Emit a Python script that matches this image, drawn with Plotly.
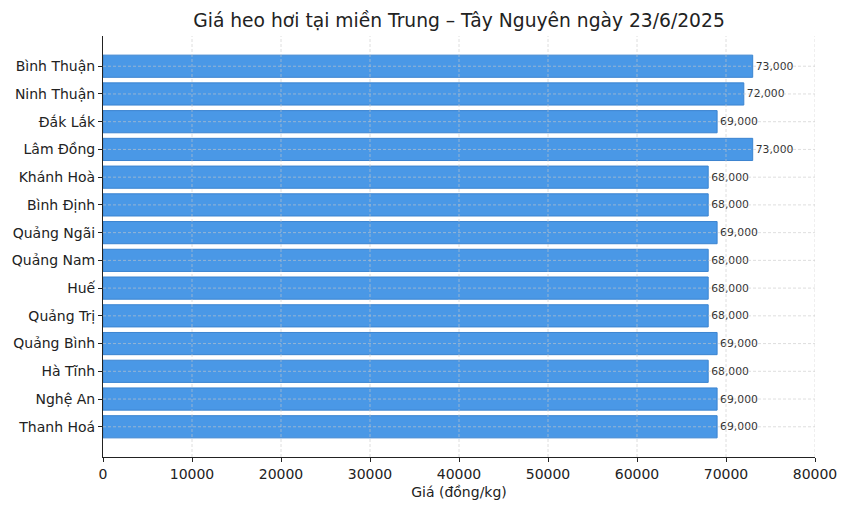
import plotly.graph_objects as go

provinces = ["Bình Thuận", "Ninh Thuận", "Đắk Lắk", "Lâm Đồng", "Khánh Hoà", "Bình Định",
             "Quảng Ngãi", "Quảng Nam", "Huế", "Quảng Trị", "Quảng Bình", "Hà Tĩnh",
             "Nghệ An", "Thanh Hoá"]
prices = [73000, 72000, 69000, 73000, 68000, 68000, 69000, 68000, 68000, 68000, 69000, 68000,
          69000, 69000]
x_ticks = [0, 10000, 20000, 30000, 40000, 50000, 60000, 70000, 80000]
labels = [f"{v:,}" for v in prices]

fig = go.Figure(go.Bar(
    x=prices, y=provinces, orientation="h",
    marker=dict(color="#4a98e6", line=dict(color="#3b84d0", width=1)),
    width=0.8,
    text=labels, textposition="outside", cliponaxis=False,
    textfont=dict(family="DejaVu Sans", size=10.8, color="#333333"),
    hoverinfo="skip",
))

grid_line = dict(color="rgba(200,200,200,0.6)", width=1, dash="3px,2px")
shapes = []
for t in x_ticks[1:]:
    shapes.append(dict(type="line", xref="x", yref="paper", x0=t, x1=t, y0=0, y1=1,
                       line=grid_line, layer="above"))
for p in provinces:
    shapes.append(dict(type="line", xref="paper", yref="y", x0=0, x1=1, y0=p, y1=p,
                       line=grid_line, layer="above"))

fig.update_layout(
    width=850, height=510,
    margin=dict(l=101, r=35, t=36, b=51),
    plot_bgcolor="white", paper_bgcolor="white",
    font=dict(family="DejaVu Sans", size=14, color="#222222"),
    title=dict(text="Giá heo hơi tại miền Trung – Tây Nguyên ngày 23/6/2025",
               xref="paper", x=0.5, xanchor="center",
               yref="container", y=1 - 20 / 510, yanchor="middle",
               font=dict(size=18.7, color="#222222")),
    showlegend=False,
    bargap=0.2,
    shapes=shapes,
)
fig.update_xaxes(
    range=[0, 80000], tickvals=x_ticks, tickformat="d",
    showgrid=False,
    showline=True, linecolor="#222222", linewidth=1,
    ticks="outside", ticklen=4, tickcolor="#222222",
    zeroline=False,
    title=dict(text="Giá (đồng/kg)", font=dict(size=14), standoff=6),
    tickfont=dict(size=14),
)
fig.update_yaxes(
    autorange=False, range=[13 + 1.09, -1.09], type="category",
    categoryorder="array", categoryarray=provinces,
    showgrid=False,
    showline=True, linecolor="#222222", linewidth=1,
    ticks="outside", ticklen=4, tickcolor="#222222",
    tickfont=dict(size=14),
)

fig.write_html("out.html", config={"displayModeBar": False},
               post_script="document.body.style.margin='0';")
